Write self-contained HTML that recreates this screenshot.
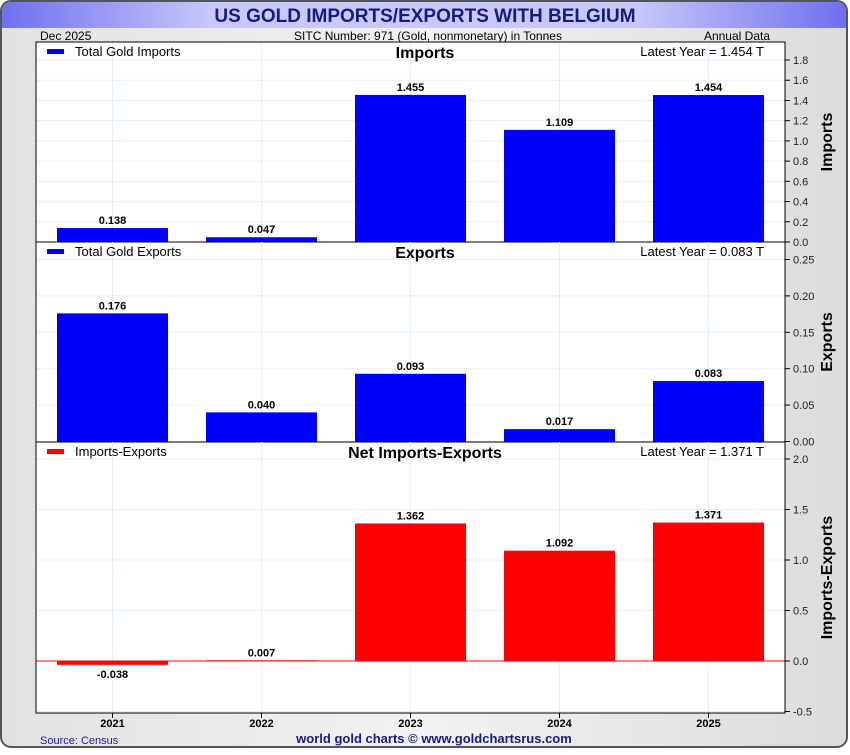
<!DOCTYPE html>
<html><head><meta charset="utf-8"><style>
body{margin:0;background:#fff;}
svg text{font-family:"Liberation Sans",sans-serif;}
</style></head><body>
<svg id="c" width="850" height="750" xmlns="http://www.w3.org/2000/svg">
<defs>
<linearGradient id="tb" x1="0" x2="1" y1="0" y2="0">
<stop offset="0" stop-color="#6f6ff0"/><stop offset="0.25" stop-color="#c8c8fa"/><stop offset="0.75" stop-color="#c8c8fa"/><stop offset="1" stop-color="#6f6ff0"/></linearGradient>
<linearGradient id="bg" x1="0" x2="1" y1="0" y2="0">
<stop offset="0" stop-color="#e2e2e2"/><stop offset="0.5" stop-color="#f2f2f2"/><stop offset="1" stop-color="#dcdcdc"/></linearGradient>
</defs>
<rect x="1" y="1" width="846" height="746" rx="10" fill="url(#bg)" stroke="#555" stroke-width="2"/>
<path d="M2 28 V12 Q2 2 12 2 H836 Q846 2 846 12 V28 Z" fill="url(#tb)"/>
<text x="425" y="22" text-anchor="middle" font-size="19" font-weight="bold" fill="#1a1a80">US GOLD IMPORTS/EXPORTS WITH BELGIUM</text>
<text x="40" y="40" font-size="12" fill="#000">Dec  2025</text>
<text x="428" y="40" text-anchor="middle" font-size="12">SITC Number: 971 (Gold, nonmonetary) in Tonnes</text>
<text x="770" y="40" text-anchor="end" font-size="12">Annual Data</text>
<rect x="36" y="42" width="749" height="671" fill="#fff"/>
<g id="g"></g>
<text x="40" y="744" font-size="11" fill="#1a1a9a">Source: Census</text>
<text x="434" y="743" text-anchor="middle" font-size="13" font-weight="bold" fill="#1a1a80">world gold charts © www.goldchartsrus.com</text>
</svg>
<script>
const years=["2021","2022","2023","2024","2025"];
const importsVals=[0.138,0.047,1.455,1.109,1.454];
const exportsVals=[0.176,0.040,0.093,0.017,0.083];
const netVals=[-0.038,0.007,1.362,1.092,1.371];
const importTicks=["0.0","0.2","0.4","0.6","0.8","1.0","1.2","1.4","1.6","1.8"];
const exportTicks=["0.00","0.05","0.10","0.15","0.20","0.25"];
const netTicks=["-0.5","0.0","0.5","1.0","1.5","2.0"];
const NS="http://www.w3.org/2000/svg";
const g=document.getElementById('g');
function mk(t,a){const e=document.createElementNS(NS,t);for(const k in a)e.setAttribute(k,a[k]);g.appendChild(e);return e;}
const L=36,R=785,W=R-L,n=years.length,bw=111;
function xc(i){return 112.5+149*i;}
const panels=[
 {vals:importsVals,ticks:importTicks,top:42,bot:242,y0:242,ppu:101.1,color:"#0000ff",legend:"Total Gold Imports",title:"Imports",latest:"Latest Year = 1.454 T",axis:"Imports",dec:3,key:"imports"},
 {vals:exportsVals,ticks:exportTicks,top:242,bot:442,y0:441.5,ppu:728,color:"#0000ff",legend:"Total Gold Exports",title:"Exports",latest:"Latest Year = 0.083 T",axis:"Exports",dec:3,key:"exports"},
 {vals:netVals,ticks:netTicks,top:442,bot:713,y0:661,ppu:101,color:"#ff0000",legend:"Imports-Exports",title:"Net Imports-Exports",latest:"Latest Year = 1.371 T",axis:"Imports-Exports",dec:3,key:"net"}
];
panels.forEach(p=>{
 const y=v=>p.y0-v*p.ppu;
 for(let i=0;i<n;i++){const l=mk('line',{x1:xc(i),x2:xc(i),y1:p.top,y2:p.bot,stroke:"#e3eef8"});
  
  }
 p.ticks.forEach(t=>{const v=parseFloat(t),yy=y(v);
  if(yy<p.top-1||yy>p.bot+1)return;
  const gl=mk('line',{x1:L,x2:R,y1:yy,y2:yy,stroke:"#e3eef8"});
  
  
  const tk=mk('line',{x1:R,x2:R+5,y1:yy,y2:yy,stroke:"#000"});
  
  
  const tl=mk('text',{x:R+8,y:yy+4,"font-size":11,fill:"#222"});tl.textContent=t;
  
  
 });
 if(p.key==="net"){const zl=mk('line',{x1:L,x2:R,y1:p.y0,y2:p.y0,stroke:"#ff0000"});
  
  }
 p.vals.forEach((v,i)=>{
  const y1=Math.min(y(v),p.y0),h=Math.abs(v*p.ppu);
  const b=mk('rect',{x:xc(i)-bw/2,y:y1,width:bw,height:Math.max(h,0.01),fill:p.color});
  
  
  const ty=v>=0?y(v)-4:p.y0+h+13;
  const t=mk('text',{x:xc(i),y:ty,"text-anchor":"middle","font-size":11,"font-weight":"bold"});t.textContent=v.toFixed(p.dec);
  
  
 });
 const lg=mk('rect',{x:47,y:p.top+7,width:17,height:5,fill:p.color});
 
 
 const lt=mk('text',{x:75,y:p.top+14,"font-size":13});lt.textContent=p.legend;
 
 
 const pt=mk('text',{x:425,y:p.top+16,"text-anchor":"middle","font-size":16,"font-weight":"bold"});pt.textContent=p.title;
 
 
 const la=mk('text',{x:764,y:p.top+14,"text-anchor":"end","font-size":13});la.textContent=p.latest;
 
 
 const cy=(p.top+p.bot)/2;
 const at=mk('text',{x:0,y:0,"text-anchor":"middle","font-size":16,"font-weight":"bold",transform:`translate(832,${cy}) rotate(-90)`});at.textContent=p.axis;
 
 
 const bl=mk('line',{x1:L,x2:R,y1:p.bot,y2:p.bot,stroke:"#000"});
 
 
});
const fr=mk('rect',{x:L,y:42,width:W,height:671,fill:"none",stroke:"#000"});


years.forEach((yr,i)=>{
 const tk=mk('line',{x1:xc(i),x2:xc(i),y1:713,y2:718,stroke:"#000"});
 
 
 const t=mk('text',{x:xc(i),y:727,"text-anchor":"middle","font-size":11,"font-weight":"bold"});t.textContent=yr;
 
 
});
</script>
</body></html>
